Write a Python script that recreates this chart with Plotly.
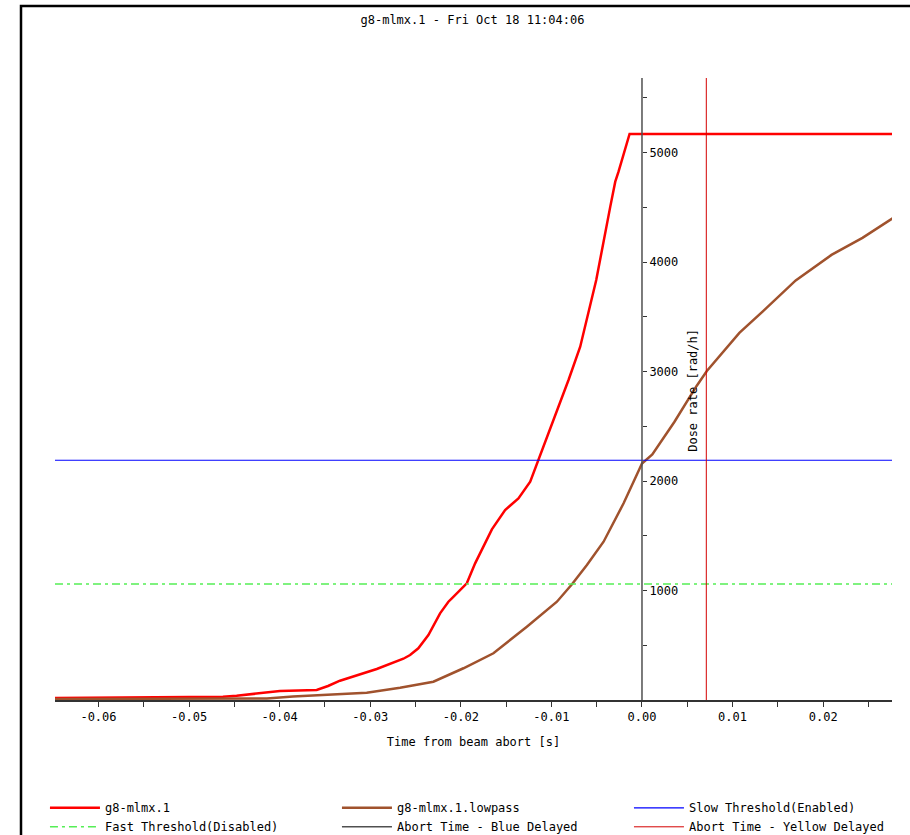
import plotly.graph_objects as go

# Raw dose-rate signal (g8-mlmx.1), time in s relative to beam abort, dose rate in rad/h
t_raw = [-0.0648, -0.04626, -0.04475, -0.04254, -0.03997, -0.03591, -0.03466, -0.03334,
         -0.03149, -0.02928, -0.02634, -0.02560, -0.02469, -0.02358, -0.02229, -0.02137,
         -0.02099, -0.01934, -0.01842, -0.01750, -0.01657, -0.01511, -0.01364, -0.01234,
         -0.01143, -0.01050, -0.00958, -0.00811, -0.00682, -0.00608, -0.00552, -0.00505,
         -0.00350, -0.00295, -0.00259, -0.00137, 0.02766]
dose_raw = [18, 30, 39, 61, 82, 91, 128, 176,
            228, 283, 377, 411, 472, 594, 792, 898,
            929, 1066, 1248, 1400, 1559, 1735, 1842, 1994,
            2192, 2405, 2603, 2923, 3227, 3471, 3654, 3837,
            4507, 4735, 4826, 5171, 5171]

# Low-pass filtered signal (g8-mlmx.1.lowpass)
t_lp = [-0.0648, -0.04141, -0.03853, -0.03481, -0.03039, -0.02671, -0.02303, -0.01971,
        -0.01640, -0.01271, -0.00939, -0.00773, -0.00608, -0.00424, -0.00203, 0.0,
        0.00114, 0.00357, 0.00603, 0.00716, 0.01075, 0.01340, 0.01697, 0.02092,
        0.02434, 0.02766]
dose_lp = [9, 14, 32, 46, 67, 112, 167, 290,
           427, 670, 898, 1057, 1233, 1446, 1797, 2160,
           2243, 2540, 2869, 3006, 3353, 3554, 3833, 4066,
           4222, 4400]

slow_threshold = 2190
fast_threshold = 1060
abort_blue = 0.0
abort_yellow = 0.0071

x_range = [-0.0648, 0.0276]
y_range = [0, 5682]

x_ticks = [-0.06, -0.05, -0.04, -0.03, -0.02, -0.01, 0.0, 0.01, 0.02]
x_ticktext = ["-0.06", "-0.05", "-0.04", "-0.03", "-0.02", "-0.01", "0.00", "0.01", "0.02"]
x_minor = [-0.065, -0.055, -0.045, -0.035, -0.025, -0.015, -0.005, 0.005, 0.015, 0.025]
y_ticks = [1000, 2000, 3000, 4000, 5000]
y_minor = [500, 1500, 2500, 3500, 4500, 5500]

FONT = "DejaVu Sans Mono"

fig = go.Figure()

fig.add_trace(go.Scatter(x=t_raw, y=dose_raw, mode="lines", name="g8-mlmx.1",
                         line=dict(color="#ff0000", width=2.5)))
fig.add_trace(go.Scatter(x=t_lp, y=dose_lp, mode="lines", name="g8-mlmx.1.lowpass",
                         line=dict(color="#a0522d", width=2.5)))
fig.add_trace(go.Scatter(x=x_range, y=[slow_threshold, slow_threshold], mode="lines",
                         name="Slow Threshold(Enabled)",
                         line=dict(color="#0000ff", width=1.2)))
fig.add_trace(go.Scatter(x=x_range, y=[fast_threshold, fast_threshold], mode="lines",
                         name="Fast Threshold(Disabled)",
                         line=dict(color="#55ee55", width=1.5, dash="8px,4px,3px,4px")))
fig.add_trace(go.Scatter(x=[abort_blue, abort_blue], y=y_range, mode="lines",
                         name="Abort Time - Blue Delayed",
                         line=dict(color="#505050", width=1.5)))
fig.add_trace(go.Scatter(x=[abort_yellow, abort_yellow], y=y_range, mode="lines",
                         name="Abort Time - Yellow Delayed",
                         line=dict(color="#d40000", width=1)))

# y axis sits at t = 0 inside the plot
y_pos = (0 - x_range[0]) / (x_range[1] - x_range[0])

fig.update_layout(
    width=910, height=835,
    margin=dict(l=55, r=18, t=78, b=135, autoexpand=False),
    paper_bgcolor="white", plot_bgcolor="white",
    font=dict(family=FONT, size=12, color="black"),
    title=dict(text="g8-mlmx.1 - Fri Oct 18 11:04:06", x=0.5192, xanchor="center",
               y=1 - 20 / 835, yanchor="middle", font=dict(family=FONT, size=12)),
    xaxis=dict(range=x_range, showgrid=False, zeroline=False,
               showline=True, linecolor="#333333", linewidth=1.5,
               tickmode="array", tickvals=x_ticks, ticktext=x_ticktext,
               ticks="outside", ticklen=5, tickcolor="#333333",
               minor=dict(tickmode="array", tickvals=x_minor, ticks="outside",
                          ticklen=5, tickcolor="#333333"),
               title=dict(text="Time from beam abort [s]", standoff=14,
                          font=dict(family=FONT, size=12))),
    yaxis=dict(range=y_range, showgrid=False, zeroline=False, showline=False,
               anchor="free", position=y_pos, side="right",
               tickmode="array", tickvals=y_ticks,
               ticks="outside", ticklen=4, tickcolor="#333333",
               minor=dict(tickmode="array", tickvals=y_minor, ticks="outside",
                          ticklen=4, tickcolor="#333333")),
    showlegend=True,
    legend=dict(orientation="h", x=-0.012, xanchor="left", y=-0.15, yanchor="top",
                entrywidth=227, entrywidthmode="pixels", itemwidth=50,
                font=dict(family=FONT, size=12), bgcolor="rgba(0,0,0,0)",
                tracegroupgap=0),
    annotations=[dict(x=0.0056, y=2831, xref="x", yref="y", text="Dose rate [rad/h]",
                      textangle=-90, showarrow=False,
                      font=dict(family=FONT, size=12))],
    shapes=[dict(type="rect", xref="paper", yref="paper",
                 x0=(21 - 55) / 837, x1=1.2, y0=-0.4, y1=(700 - 6) / 622,
                 line=dict(color="black", width=2.5), layer="below")],
)

fig.write_html("out.html")
